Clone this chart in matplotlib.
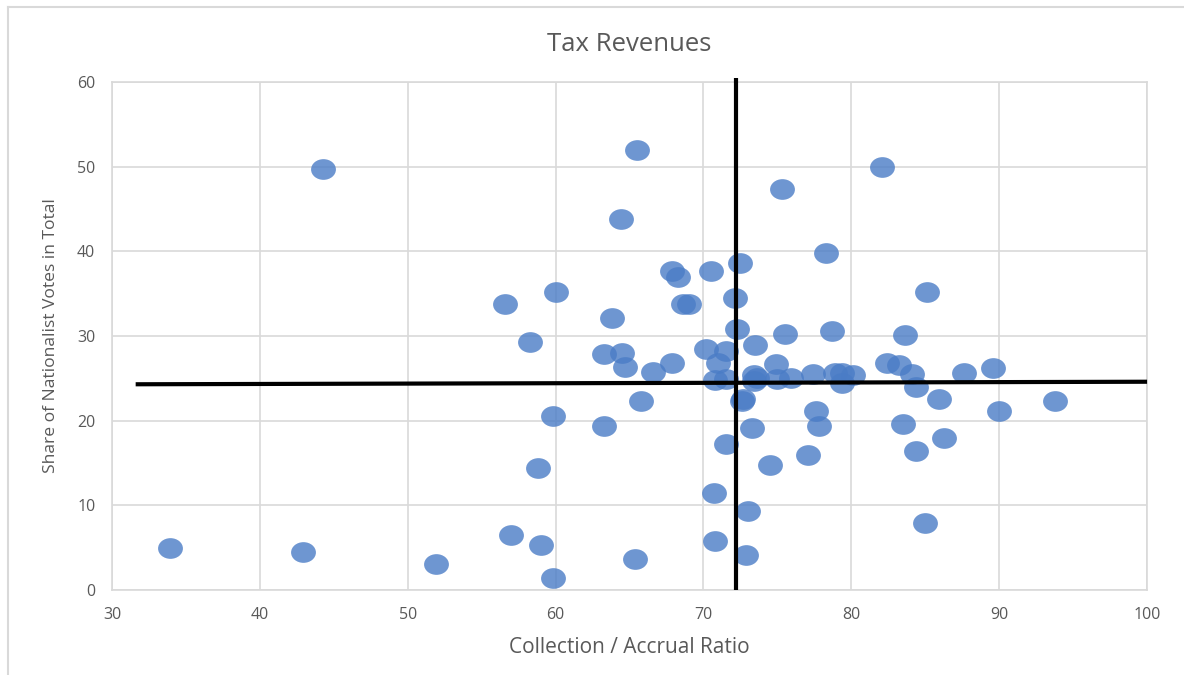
import matplotlib.pyplot as plt
from matplotlib.path import Path
from matplotlib.transforms import Affine2D

# collection / accrual ratio vs share of nationalist votes
ratio = [33.9, 42.9, 44.3, 51.9, 56.6, 57.0, 58.3, 58.8, 59.0, 59.8,
         59.8, 60.0, 63.3, 63.3, 63.8, 64.4, 64.5, 64.7, 65.4, 65.5,
         65.8, 66.6, 67.9, 67.9, 68.3, 68.6, 69.0, 70.2, 70.5, 70.7,
         70.8, 70.8, 71.0, 71.5, 71.5, 71.5, 72.1, 72.5, 72.3, 72.6,
         72.7, 73.0, 72.9, 73.3, 73.5, 73.4, 73.6, 73.4, 74.5, 74.9,
         75.0, 75.3, 75.5, 75.9, 77.1, 77.4, 77.6, 77.8, 78.3, 78.7,
         78.9, 79.4, 79.4, 80.1, 82.1, 82.4, 83.2, 83.6, 83.5, 84.1,
         84.4, 84.4, 85.0, 85.1, 85.9, 86.3, 87.6, 89.6, 90.0, 93.8]
share = [5.0, 4.5, 49.7, 3.1, 33.8, 6.5, 29.3, 14.4, 5.3, 1.4,
         20.6, 35.2, 27.9, 19.4, 32.1, 43.8, 28.0, 26.3, 3.7, 52.0,
         22.3, 25.8, 26.8, 37.7, 37.0, 33.8, 33.8, 28.5, 37.7, 11.5,
         5.8, 24.8, 26.8, 17.2, 28.2, 24.9, 34.5, 38.6, 30.8, 22.3,
         22.6, 9.3, 4.1, 19.1, 28.9, 25.4, 25.0, 24.7, 14.8, 26.7,
         24.9, 47.4, 30.2, 25.0, 15.9, 25.5, 21.1, 19.4, 39.8, 30.6,
         25.6, 25.6, 24.5, 25.4, 50.0, 26.8, 26.6, 30.1, 19.6, 25.5,
         24.0, 16.4, 7.9, 35.2, 22.6, 18.0, 25.6, 26.2, 21.1, 22.3]

# quadrant lines drawn on top of the chart
vline_x = [72.2, 72.2]
vline_y = [0, 60.5]
hline_x = [31.6, 100]
hline_y = [24.3, 24.6]

plt.rcParams['font.family'] = ['Open Sans', 'DejaVu Sans']
grey = '#595959'

fig = plt.figure(figsize=(11.84, 6.75), dpi=100)
ax = fig.add_axes([0.0946, 0.1259, 0.8742, 0.7526])

# stretched ellipse marker, like the squashed excel picture
ellipse = Path.unit_circle().transformed(Affine2D().scale(1.2, 1.0))
ax.scatter(ratio, share, marker=ellipse, s=320, color='#4a7cc6', alpha=0.8,
           linewidths=0, zorder=3)

ax.plot(vline_x, vline_y, color='black', lw=3, zorder=4, clip_on=False,
        solid_capstyle='butt')
ax.plot(hline_x, hline_y, color='black', lw=3, zorder=4, clip_on=False,
        solid_capstyle='butt')

ax.set_xlim(30, 100)
ax.set_ylim(0, 60)
ax.set_xticks(range(30, 101, 10))
ax.set_yticks(range(0, 61, 10))
ax.grid(True, color='#d9d9d9', lw=1.2)
ax.set_axisbelow(True)
for side in ax.spines.values():
    side.set_color('#d9d9d9')
    side.set_linewidth(1.2)
ax.tick_params(length=0, labelsize=11.5, colors=grey, pad=12)

ax.set_title('Tax Revenues', fontsize=18.5, color=grey, pad=22)
ax.set_xlabel('Collection / Accrual Ratio', fontsize=15, color=grey, labelpad=10)
ax.set_ylabel('Share of Nationalist Votes in Total', fontsize=12.6, color=grey,
              labelpad=13)

# outer chart frame (left and top edges visible)
fig.add_artist(plt.Line2D([0.0068, 0.0068], [0, 0.9896], color='#d9d9d9',
                          lw=1.5, transform=fig.transFigure))
fig.add_artist(plt.Line2D([0.0068, 1], [0.9896, 0.9896], color='#d9d9d9',
                          lw=1.5, transform=fig.transFigure))

fig.savefig('out.png', dpi=100)
